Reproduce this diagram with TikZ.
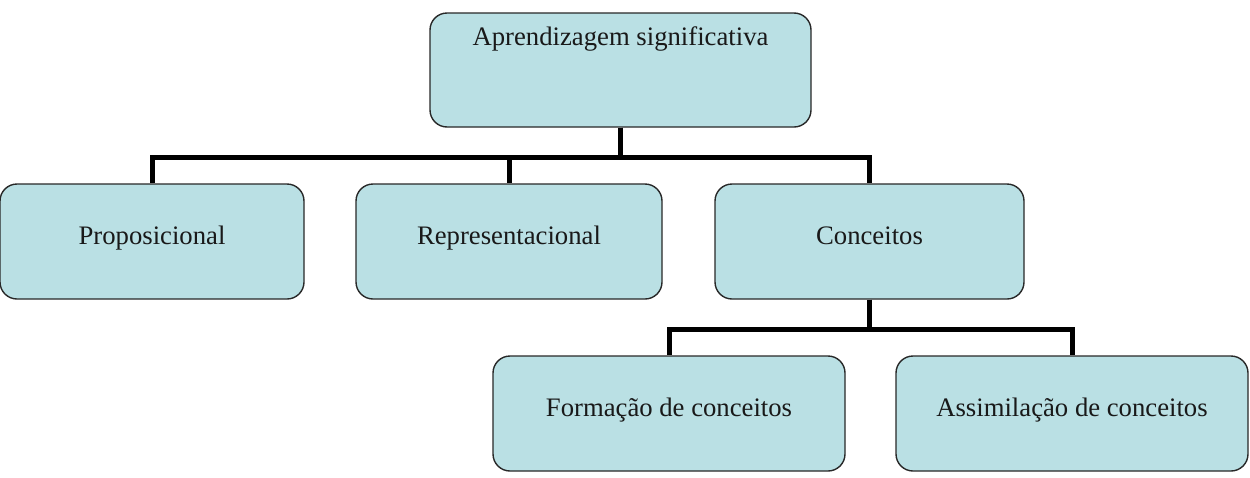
\documentclass[tikz,border=0pt]{standalone}
\usepackage{fontspec}
\setmainfont{Liberation Serif}
\usetikzlibrary{positioning}
\definecolor{boxfill}{RGB}{186,224,228}
\definecolor{boxline}{RGB}{40,40,40}

\begin{document}
\begin{tikzpicture}[x=1pt, y=-1pt,
    box/.style={draw=boxline, line width=1.4pt, fill=boxfill, rounded corners=17pt,
      inner xsep=0pt, inner ysep=0pt, text height=60pt, text depth=55pt,
      text=black!90, font=\fontsize{26.7}{30}\selectfont},
    link/.style={line width=5pt}]
  \useasboundingbox (0,0) rectangle (1250,477);
  % top level
  \node[box, minimum width=381pt, text height=32pt, text depth=82pt] (apr) at (620.5,70) {Aprendizagem significativa};
  % second row
  \node[box, minimum width=304pt] (prop) at (152,241.5) {Proposicional};
  \node[box, minimum width=306pt] (rep) at (509,241.5) {Representacional};
  \node[box, minimum width=309pt] (conc) at (869.5,241.5) {Conceitos};
  % third row
  \node[box, minimum width=352pt] (form) at (669,413.5) {Formação de conceitos};
  \node[box, minimum width=352pt] (assim) at (1072,413.5) {Assimilação de conceitos};
  % connectors
  \draw[link] (apr.south) -- ++(0,30) -| (prop.north);
  \draw[link] (apr.south) -- ++(0,30) -| (rep.north);
  \draw[link] (apr.south) -- ++(0,30) -| (conc.north);
  \draw[link] (conc.south) -- ++(0,30) -| (form.north);
  \draw[link] (conc.south) -- ++(0,30) -| (assim.north);
\end{tikzpicture}
\end{document}
